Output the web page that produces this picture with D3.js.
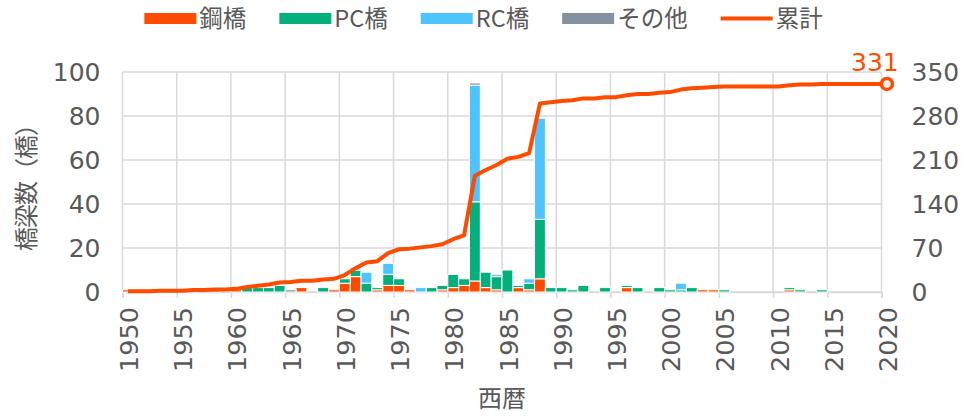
<!DOCTYPE html>
<html>
<head>
<meta charset="utf-8">
<script src="https://cdn.jsdelivr.net/npm/d3@7"></script>
<style>
  body { margin: 0; background: #fff; }
  text { fill: #595959; }
</style>
</head>
<body>
<svg id="chart" width="967" height="418"></svg>
<script>
let years = [
  1950, 1951, 1952, 1953, 1954, 1955, 1956, 1957, 1958, 1959,
  1960, 1961, 1962, 1963, 1964, 1965, 1966, 1967, 1968, 1969,
  1970, 1971, 1972, 1973, 1974, 1975, 1976, 1977, 1978, 1979,
  1980, 1981, 1982, 1983, 1984, 1985, 1986, 1987, 1988, 1989,
  1990, 1991, 1992, 1993, 1994, 1995, 1996, 1997, 1998, 1999,
  2000, 2001, 2002, 2003, 2004, 2005, 2006, 2007, 2008, 2009,
  2010, 2011, 2012, 2013, 2014, 2015, 2016, 2017, 2018, 2019,
  2020
];

// 鋼橋
let steel = [
  1, 0, 0, 1, 0, 0, 1, 0, 1, 0,
  1, 0, 0, 0, 0, 0, 2, 0, 0, 1,
  4, 7, 0, 1, 3, 3, 1, 0, 0, 1,
  2, 3, 5, 2, 1, 0, 2, 1, 6, 0,
  0, 0, 0, 0, 0, 0, 2, 0, 0, 0,
  0, 0, 0, 1, 1, 0, 0, 0, 0, 0,
  0, 1, 0, 0, 0, 0, 0, 0, 0, 0,
  0
];

// PC橋
let pc = [
  0, 0, 0, 0, 0, 0, 0, 0, 0, 0,
  0, 3, 2, 2, 3, 0, 0, 0, 2, 0,
  2, 3, 4, 1, 5, 3, 0, 0, 2, 2,
  6, 3, 36, 7, 6, 10, 1, 3, 27, 2,
  2, 1, 3, 0, 2, 0, 1, 2, 0, 2,
  1, 1, 2, 0, 0, 1, 0, 0, 0, 0,
  0, 1, 1, 0, 1, 0, 0, 0, 0, 0,
  0
];

// RC橋
let rc = [
  0, 0, 0, 0, 0, 0, 0, 0, 0, 0,
  0, 0, 0, 0, 0, 0, 0, 0, 0, 0,
  0, 1, 5, 0, 5, 0, 0, 2, 0, 0,
  0, 0, 53, 0, 1, 0, 0, 2, 46, 0,
  0, 0, 0, 0, 0, 0, 0, 0, 0, 0,
  0, 3, 0, 0, 0, 0, 0, 0, 0, 0,
  0, 0, 0, 0, 0, 0, 0, 0, 0, 0,
  0
];

// その他
let other = [
  0, 0, 0, 0, 0, 0, 0, 0, 0, 0,
  0, 0, 0, 0, 0, 1, 0, 0, 0, 0,
  0, 0, 0, 0, 0, 0, 0, 0, 0, 0,
  0, 0, 1, 0, 0, 0, 0, 0, 0, 0,
  0, 0, 0, 0, 0, 0, 0, 0, 0, 0,
  0, 0, 0, 0, 0, 0, 0, 0, 0, 0,
  0, 0, 0, 0, 0, 0, 0, 0, 0, 0,
  0
];

let leftTicks = [0, 20, 40, 60, 80, 100];
let rightTicks = [0, 70, 140, 210, 280, 350];
let yearTicks = [1950, 1955, 1960, 1965, 1970, 1975, 1980, 1985, 1990, 1995, 2000, 2005, 2010, 2015, 2020];

let keys = ['steel', 'pc', 'rc', 'other'];
let names = { steel: '鋼橋', pc: 'PC橋', rc: 'RC橋', other: 'その他' };
let colors = { steel: '#ff4b00', pc: '#03af7a', rc: '#4dc4ff', other: '#84919e' };
let lineColor = '#ff4b00';
let gridColor = '#d9d9d9';
let numFont = '"DejaVu Sans", sans-serif';
let jpFont = '"Noto Sans CJK JP", sans-serif';

let rows = years.map((year, i) => ({
  year,
  steel: steel[i],
  pc: pc[i],
  rc: rc[i],
  other: other[i]
}));

let totals = rows.map((d) => d.steel + d.pc + d.rc + d.other);
let cumulative = Array.from(d3.cumsum(totals));
let lineData = rows.map((d, i) => ({ year: d.year, value: cumulative[i] }));

let svg = d3.select('#chart');

let x = d3.scaleLinear().domain([1950, 2020]).range([122.5, 881.5]);
let y = d3.scaleLinear().domain([0, 100]).range([292, 72]);
let y2 = d3.scaleLinear().domain([0, 350]).range([292, 72]);

let barWidth = x(1951) - x(1950);

// grid
let grid = svg.append('g');

grid.selectAll('.hgrid')
  .data(leftTicks)
  .join('line')
  .attr('x1', x(1950))
  .attr('x2', x(2020))
  .attr('y1', (d) => y(d))
  .attr('y2', (d) => y(d))
  .attr('stroke', gridColor)
  .attr('stroke-width', 1.5);

grid.selectAll('.vgrid')
  .data(yearTicks)
  .join('line')
  .attr('x1', (d) => x(d))
  .attr('x2', (d) => x(d))
  .attr('y1', y(100))
  .attr('y2', y(0))
  .attr('stroke', gridColor)
  .attr('stroke-width', 1.5);

// bottom axis
let xAxis = svg.append('g')
  .attr('transform', `translate(0,${y(0)})`)
  .call(d3.axisBottom(x).tickValues(yearTicks).tickFormat(d3.format('d')).tickSize(6));

xAxis.select('.domain').attr('stroke', gridColor).attr('stroke-width', 1.5);
xAxis.selectAll('.tick line').attr('stroke', gridColor).attr('stroke-width', 1.5);
xAxis.selectAll('.tick text')
  .attr('transform', 'rotate(-90)')
  .attr('text-anchor', 'end')
  .attr('x', -15)
  .attr('y', 15)
  .attr('dy', 0)
  .style('font-family', numFont)
  .style('font-size', '25.5px')
  .style('fill', '#595959');

// stacked bars
let stack = d3.stack().keys(keys);
let series = stack(rows);

svg.append('g')
  .selectAll('g')
  .data(series)
  .join('g')
  .attr('fill', (d) => colors[d.key])
  .selectAll('rect')
  .data((d) => d.filter((p) => p[1] > p[0]))
  .join('rect')
  .attr('x', (d) => x(d.data.year))
  .attr('width', barWidth)
  .attr('y', (d) => y(d[1]))
  .attr('height', (d) => y(d[0]) - y(d[1]))
  .attr('stroke', '#fff')
  .attr('stroke-width', 1);

// cumulative line
let line = d3.line()
  .x((d) => x(d.year + 0.5))
  .y((d) => y2(d.value));

svg.append('path')
  .datum(lineData)
  .attr('d', line)
  .attr('fill', 'none')
  .attr('stroke', lineColor)
  .attr('stroke-width', 4)
  .attr('stroke-linejoin', 'round');

let last = lineData[lineData.length - 1];

svg.append('circle')
  .attr('cx', x(last.year + 0.5))
  .attr('cy', y2(last.value))
  .attr('r', 5.5)
  .attr('fill', '#f2f2f2')
  .attr('stroke', lineColor)
  .attr('stroke-width', 3.5);

svg.append('text')
  .text(last.value)
  .attr('x', x(last.year + 0.5) - 12)
  .attr('y', y2(last.value) - 13)
  .attr('text-anchor', 'middle')
  .style('font-family', numFont)
  .style('font-size', '25px')
  .style('fill', lineColor);

// left / right axes
let yAxis = svg.append('g')
  .attr('transform', `translate(${x(1950)},0)`)
  .call(d3.axisLeft(y).tickValues(leftTicks).tickSize(0).tickPadding(22));

let y2Axis = svg.append('g')
  .attr('transform', `translate(${x(2020)},0)`)
  .call(d3.axisRight(y2).tickValues(rightTicks).tickSize(0).tickPadding(30));

for (let a of [yAxis, y2Axis]) {
  a.select('.domain').remove();
  a.selectAll('text')
    .style('font-family', numFont)
    .style('font-size', '25px')
    .style('fill', '#595959');
}

// axis titles
svg.append('text')
  .text('橋梁数（橋）')
  .attr('transform', 'translate(26,182) rotate(-90)')
  .attr('text-anchor', 'middle')
  .attr('dy', '0.36em')
  .style('letter-spacing', '-1px')
  .style('font-family', jpFont)
  .style('font-size', '24px');

svg.append('text')
  .text('西暦')
  .attr('x', (x(1950) + x(2020)) / 2)
  .attr('y', 407)
  .attr('text-anchor', 'middle')
  .style('font-family', jpFont)
  .style('font-size', '24px');

// legend
let legend = svg.append('g');
let items = keys.map((k) => ({ label: names[k], color: colors[k], type: 'rect' }));
items.push({ label: '累計', color: lineColor, type: 'line' });

let cursor = 0;
for (let it of items) {
  let g = legend.append('g').attr('transform', `translate(${cursor},0)`);

  if (it.type === 'rect') {
    g.append('rect')
      .attr('x', 0)
      .attr('y', 13)
      .attr('width', 52)
      .attr('height', 11)
      .attr('fill', it.color);
  } else {
    g.append('line')
      .attr('x1', 0)
      .attr('x2', 52)
      .attr('y1', 18.5)
      .attr('y2', 18.5)
      .attr('stroke', it.color)
      .attr('stroke-width', 4);
  }

  let t = g.append('text')
    .text(it.label)
    .attr('x', 55)
    .attr('y', 18.5)
    .attr('dy', '0.36em')
    .style('font-family', jpFont)
    .style('font-size', '23.5px');

  cursor += 55 + t.node().getComputedTextLength() + 33;
}

let legendWidth = cursor - 33;
legend.attr('transform', `translate(${(967 - legendWidth) / 2},0)`);
</script>
</body>
</html>
